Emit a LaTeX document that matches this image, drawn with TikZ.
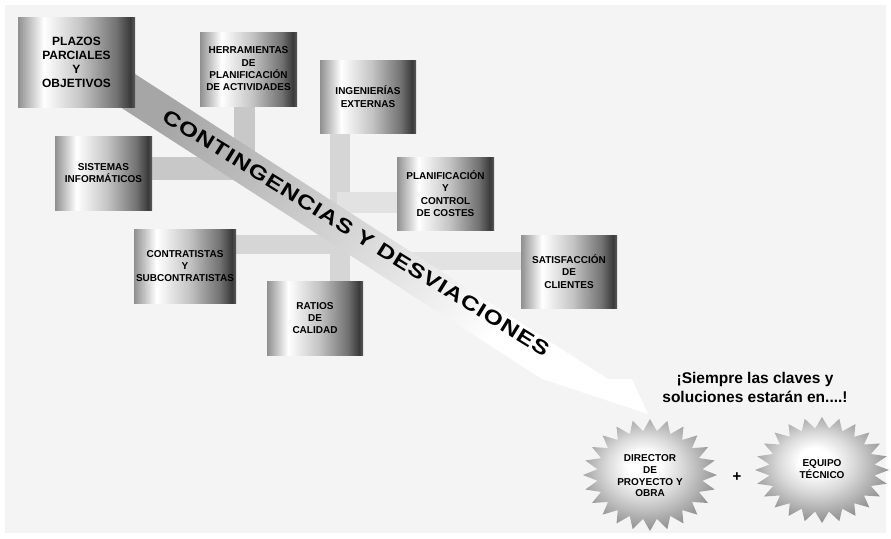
\documentclass[tikz,border=0pt]{standalone}
\usepackage{fontspec}
\setmainfont{Liberation Sans}
\usepackage{graphicx}
\definecolor{bgc}{HTML}{F4F4F4}
\definecolor{bxl}{HTML}{909090}
\definecolor{bxm}{HTML}{C4C4C4}
\definecolor{bxd}{HTML}{727272}
\definecolor{bxk}{HTML}{3A3A3A}
\definecolor{bxe}{HTML}{5A5A5A}
\definecolor{bandA}{HTML}{A6A6A6}
\definecolor{bandB}{HTML}{D8D8D8}
\definecolor{stg}{HTML}{969696}
\definecolor{stm}{HTML}{DADADA}
\definecolor{barA}{HTML}{C8C8C8}
\definecolor{barB}{HTML}{D6D6D6}
\definecolor{barC}{HTML}{E2E2E2}
\pgfdeclarehorizontalshading{boxsh}{100bp}{color(0bp)=(bxl); color(25bp)=(bxl); color(36bp)=(white); color(52bp)=(bxm); color(67bp)=(bxd); color(73bp)=(bxk); color(75bp)=(bxe); color(100bp)=(bxe)}
\pgfdeclarehorizontalshading{bandsh}{100bp}{color(0bp)=(bandA); color(30bp)=(bandA); color(52bp)=(bandB); color(68bp)=(white); color(100bp)=(white)}
\pgfdeclareradialshading{starsh}{\pgfpoint{-3bp}{5bp}}{color(0bp)=(white); color(6bp)=(white); color(14bp)=(stm); color(26bp)=(stg); color(50bp)=(stg)}
\pgfdeclarelayer{back}
\pgfsetlayers{back,main}
\newcommand\drawstar[4]{%
  \shade[shading=starsh] (#1+#3,#2) \foreach \i in {1,...,47}{ -- ({#1+#3*cos(\i*7.5)*ifthenelse(mod(\i,2)==0,1,0.79)},{#2-#4*sin(\i*7.5)*ifthenelse(mod(\i,2)==0,1,0.79)}) } -- cycle;}
\tikzset{
  box/.style={shade, shading=boxsh, inner sep=0pt, align=center,
    font=\fontsize{10}{12.3}\selectfont\bfseries},
  bar/.style={line width=21pt},
  startext/.style={align=center, font=\fontsize{10}{11.7}\selectfont\bfseries}
}
\begin{document}
\begin{tikzpicture}[x=1pt,y=-1pt]
\useasboundingbox (0,0) rectangle (891,538);

% boxes
\node[box, minimum width=117pt, minimum height=90pt, font=\fontsize{12}{14}\selectfont\bfseries] (plazos) at (76.5,62) {PLAZOS\\PARCIALES\\Y\\OBJETIVOS};
\node[box, minimum width=97pt, minimum height=74pt] (herr) at (248.5,69) {HERRAMIENTAS\\DE\\PLANIFICACIÓN\\DE ACTIVIDADES};
\node[box, minimum width=96pt, minimum height=73pt] (ing) at (368,96.5) {INGENIERÍAS\\EXTERNAS};
\node[box, minimum width=97pt, minimum height=74pt] (sis) at (103.5,173) {SISTEMAS\\INFORMÁTICOS};
\node[box, minimum width=97pt, minimum height=73pt] (plan) at (445.5,193.5) {PLANIFICACIÓN\\Y\\CONTROL\\DE COSTES};
\node[box, minimum width=96pt, minimum height=73pt] (sat) at (569,271.5) {SATISFACCIÓN\\DE\\CLIENTES};
\node[box, minimum width=102pt, minimum height=74pt] (con) at (185,266) {CONTRATISTAS\\Y\\SUBCONTRATISTAS};
\node[box, minimum width=96pt, minimum height=74pt] (rat) at (315,318) {RATIOS\\DE\\CALIDAD};

\begin{pgfonlayer}{back}
\fill[white] (0,0) rectangle (891,538);
\fill[bgc] (5,5) rectangle (886,533);
% connector bars
\draw[bar, barA] ([xshift=-4.5pt]herr.south) -- ++(0,56);
\draw[bar, barA, line width=23pt] ([yshift=4.5pt]sis.east) -- ++(110,0);
\draw[bar, barB, line width=20pt] ([xshift=-28pt]ing.south) -- ([xshift=25pt]rat.north);
\draw[bar, barC] ([yshift=-9pt]plan.west) -- ++(-60,0);
\draw[bar, barB, line width=19pt] ([yshift=22pt]con.east) -- ++(110,0);
\draw[bar, barC, line width=18pt] ([yshift=10.5pt]sat.west) -- ++(-145,0);
% main band with arrow
\shade[shading=bandsh, shading angle=-32.5] (60,25.6) -- (608,379) -- (632,379) -- (648,414) -- (542,379) -- (45,58.6) -- cycle;
\node[rotate=-31.8, inner sep=0pt, font=\fontsize{20}{20}\selectfont\bfseries\addfontfeature{LetterSpace=4}] (band) at (356,233) {\scalebox{1.24}[1]{CONTINGENCIAS\ Y\ DESVIACIONES}};
\end{pgfonlayer}

% starbursts
\drawstar{650}{475}{67}{56}
\drawstar{822}{470}{67}{53}
\node[startext] (dir) at (650,476) {DIRECTOR\\DE\\PROYECTO Y\\OBRA};
\node[startext] (eq) at (822,469) {EQUIPO\\TÉCNICO};
\node[font=\fontsize{15}{15}\selectfont\bfseries] (plus) at (737,477) {+};
\node[align=center, font=\fontsize{15.5}{19}\selectfont\bfseries] (msg) at (755,387) {¡Siempre las claves y\\soluciones estarán en....!};
\end{tikzpicture}
\end{document}
